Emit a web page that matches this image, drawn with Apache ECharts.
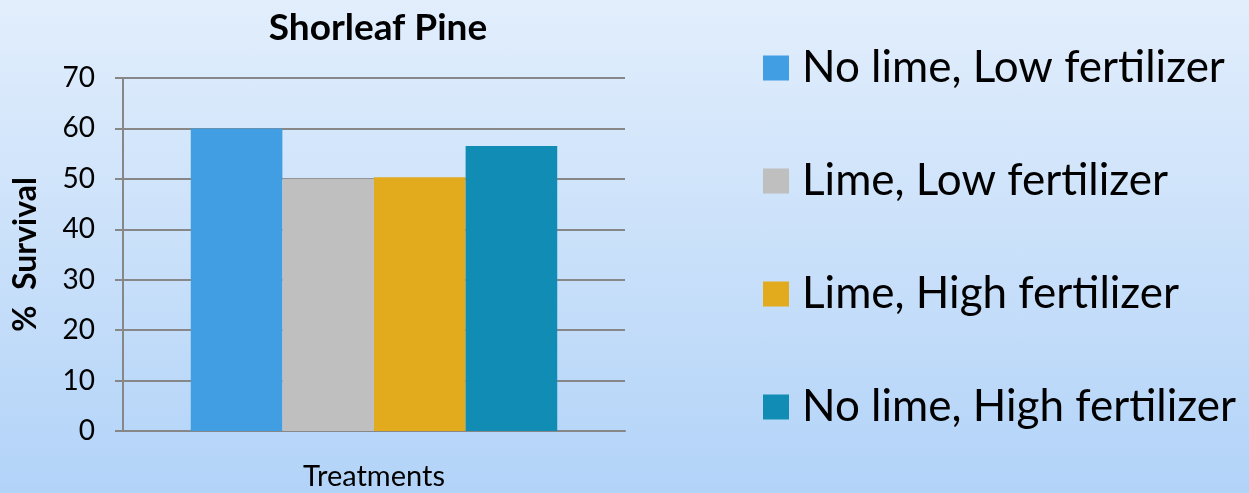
<!DOCTYPE html>
<html><head><meta charset="utf-8">
<script src="https://cdn.jsdelivr.net/npm/echarts@6/dist/echarts.min.js"></script>
<style>html,body{margin:0;padding:0;}#c{width:1249px;height:493px;background:linear-gradient(180deg,#e2eefc 0%,#b2d3f8 100%);}</style>
</head><body><div id="c"></div>
<script>
const categories = ['Treatments'];
const seriesNames = ['No lime, Low fertilizer','Lime, Low fertilizer','Lime, High fertilizer','No lime, High fertilizer'];
const seriesValues = [[60],[50],[50.3],[56.5]];
const colors = ['#419ee2','#bfbfbf','#e2aa1d','#118cb5'];
const yTicks = {min:0,max:70,interval:10};
const FONT = 'Lato, "DejaVu Sans", sans-serif';
const chart = echarts.init(document.getElementById('c'), null, {renderer:'canvas'});
chart.setOption({
  backgroundColor:'transparent',
  animation:false,
  title:{text:'Shorleaf Pine',left:373,top:5,textAlign:'center',textStyle:{fontFamily:FONT,fontWeight:'bold',fontSize:37,color:'#000'}},
  grid:{left:123,right:624,top:78,bottom:62,containLabel:false},
  legend:{orient:'vertical',left:763,top:46,padding:0,itemWidth:26,itemHeight:25,itemGap:69,icon:'rect',
    textStyle:{fontFamily:FONT,fontSize:44,lineHeight:44,color:'#000',padding:[0,0,0,8]},data:seriesNames},
  xAxis:{type:'category',data:categories,
    axisLine:{show:true,lineStyle:{color:'#878787',width:2}},
    axisTick:{show:false},
    axisLabel:{margin:31,fontFamily:FONT,fontSize:29,color:'#000'}},
  yAxis:{type:'value',min:yTicks.min,max:yTicks.max,interval:yTicks.interval,
    name:'%  Survival',nameLocation:'middle',nameGap:81,nameRotate:90,
    nameTextStyle:{fontFamily:FONT,fontWeight:'bold',fontSize:32,color:'#000'},
    axisLine:{show:true,lineStyle:{color:'#878787',width:2}},
    axisTick:{show:true,length:8,lineStyle:{color:'#878787',width:2}},
    axisLabel:{margin:28,fontFamily:FONT,fontSize:28,color:'#000'},
    splitLine:{show:true,lineStyle:{color:'#878787',width:2}}},
  series: seriesNames.map((n,i)=>({name:n,type:'bar',data:seriesValues[i],barGap:'0%',barCategoryGap:'27%',itemStyle:{color:colors[i]}}))
});
</script></body></html>
